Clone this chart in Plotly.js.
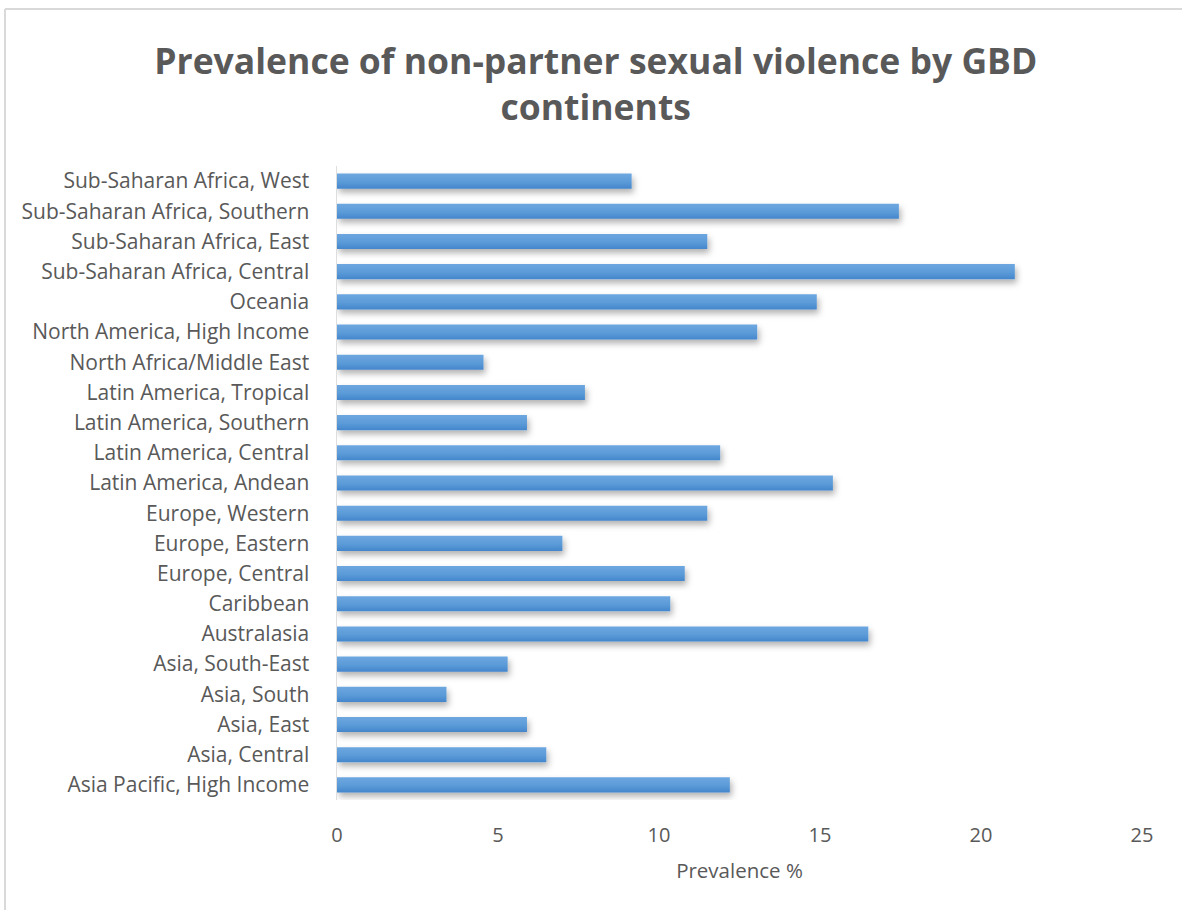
<!DOCTYPE html>
<html>
<head>
<meta charset="utf-8">
<script src="https://cdn.plot.ly/plotly-3.0.1.min.js"></script>
<style>
  html, body { margin: 0; padding: 0; background: #ffffff; }
  #chart { width: 1182px; height: 910px; }
</style>
</head>
<body>
<div id="chart"></div>
<script>
// GBD regions, listed from bottom to top of the chart
const regions = [
  "Asia Pacific, High Income",
  "Asia, Central",
  "Asia, East",
  "Asia, South",
  "Asia, South-East",
  "Australasia",
  "Caribbean",
  "Europe, Central",
  "Europe, Eastern",
  "Europe, Western",
  "Latin America, Andean",
  "Latin America, Central",
  "Latin America, Southern",
  "Latin America, Tropical",
  "North Africa/Middle East",
  "North America, High Income",
  "Oceania",
  "Sub-Saharan Africa, Central",
  "Sub-Saharan Africa, East",
  "Sub-Saharan Africa, Southern",
  "Sub-Saharan Africa, West"
];

// Prevalence of non-partner sexual violence (%)
const prevalence = [
  12.2, 6.5, 5.9, 3.4, 5.3, 16.5, 10.35, 10.8, 7.0, 11.5,
  15.4, 11.9, 5.9, 7.7, 4.55, 13.05, 14.9, 21.05, 11.5, 17.45, 9.15
];

const xTicks = [0, 5, 10, 15, 20, 25];

const textGray = "#595959";
const font = "'Open Sans', 'Liberation Sans', sans-serif";

const trace = {
  type: "bar",
  orientation: "h",
  x: prevalence,
  y: regions,
  marker: { color: "#5B9BD5", line: { width: 0 } },
  hoverinfo: "x+y"
};

const layout = {
  width: 1182,
  height: 910,
  paper_bgcolor: "#ffffff",
  plot_bgcolor: "#ffffff",
  margin: { l: 337, r: 40, t: 166, b: 110 },
  bargap: 0.5,
  showlegend: false,
  font: { family: font, color: textGray },
  title: {
    text: "<b>Prevalence of non-partner sexual violence by GBD<br>continents</b>",
    font: { family: font, size: 35.5, color: textGray },
    x: 0.504,
    xanchor: "center",
    y: 0.919,
    yanchor: "middle",
    yref: "container"
  },
  xaxis: {
    range: [0, 25],
    tickvals: xTicks,
    ticktext: xTicks.map(String),
    showgrid: false,
    zeroline: false,
    showline: false,
    ticks: "",
    ticklabelstandoff: 21,
    tickfont: { family: font, size: 20, color: textGray },
    title: {
      text: "Prevalence %",
      font: { family: font, size: 20.5, color: textGray },
      standoff: 16
    },
    fixedrange: true
  },
  yaxis: {
    type: "category",
    categoryorder: "array",
    categoryarray: regions,
    showgrid: false,
    zeroline: false,
    showline: true,
    linecolor: "#dedede",
    linewidth: 1.5,
    ticks: "",
    ticklabelstandoff: 22,
    tickfont: { family: font, size: 21, color: textGray },
    fixedrange: true
  },
  shapes: [
    // chart frame (top and left edges)
    { type: "line", xref: "paper", yref: "paper",
      x0: -0.4124, x1: 1.06, y0: 1.2476, y1: 1.2476,
      line: { color: "#d9d9d9", width: 2 } },
    { type: "line", xref: "paper", yref: "paper",
      x0: -0.4124, x1: -0.4124, y0: -0.2, y1: 1.2476,
      line: { color: "#d9d9d9", width: 2 } }
  ]
};

Plotly.newPlot("chart", [trace], layout, { displayModeBar: false, staticPlot: true }).then(() => {
  // soft bevel gradient and drop shadow on the bars
  const svg = document.querySelector("#chart .main-svg");
  const ns = "http://www.w3.org/2000/svg";
  let defs = svg.querySelector("defs");
  if (!defs) { defs = document.createElementNS(ns, "defs"); svg.insertBefore(defs, svg.firstChild); }

  const grad = document.createElementNS(ns, "linearGradient");
  grad.setAttribute("id", "barGrad");
  grad.setAttribute("x1", "0"); grad.setAttribute("y1", "0");
  grad.setAttribute("x2", "0"); grad.setAttribute("y2", "1");
  [["0%", "#6EA7E0"], ["55%", "#5B9BD8"], ["100%", "#4486CC"]].forEach(([o, c]) => {
    const s = document.createElementNS(ns, "stop");
    s.setAttribute("offset", o); s.setAttribute("stop-color", c);
    grad.appendChild(s);
  });
  defs.appendChild(grad);

  const filt = document.createElementNS(ns, "filter");
  filt.setAttribute("id", "barShadow");
  filt.setAttribute("x", "-5%"); filt.setAttribute("y", "-50%");
  filt.setAttribute("width", "115%"); filt.setAttribute("height", "250%");
  const ds = document.createElementNS(ns, "feDropShadow");
  ds.setAttribute("dx", "2"); ds.setAttribute("dy", "4");
  ds.setAttribute("stdDeviation", "3");
  ds.setAttribute("flood-color", "#000000");
  ds.setAttribute("flood-opacity", "0.3");
  filt.appendChild(ds);
  defs.appendChild(filt);

  document.querySelectorAll("#chart .bars .point path").forEach(p => {
    p.style.fill = "url(#barGrad)";
    p.style.filter = "url(#barShadow)";
  });
});
</script>
</body>
</html>
